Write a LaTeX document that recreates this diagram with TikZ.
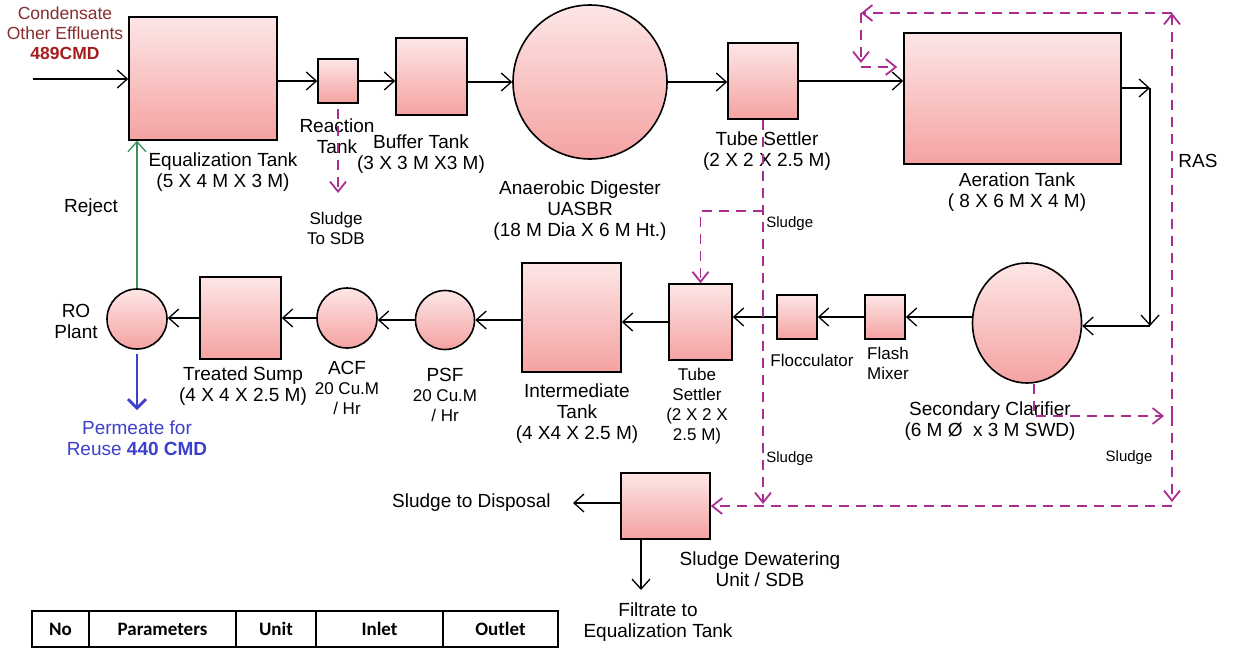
\documentclass[tikz,border=0pt]{standalone}
\usepackage{fontspec}
\setmainfont{Liberation Sans}
\newfontfamily\tablefont{Carlito}
\usetikzlibrary{arrows.meta,positioning,shapes.geometric}
\definecolor{tanktop}{RGB}{253,230,230}
\definecolor{tankbot}{RGB}{245,162,162}
\definecolor{sludgecolor}{RGB}{170,45,145}
\definecolor{feedred}{RGB}{135,45,45}
\definecolor{feedbold}{RGB}{165,30,30}
\definecolor{rejectgreen}{RGB}{55,145,90}
\definecolor{permblue}{RGB}{60,64,205}
\newcommand{\qty}[1]{\textbf{#1}}

\begin{document}
\begin{tikzpicture}[
				x=0.5pt, y=-0.5pt,
				tankbox/.style={
					draw=black,
					line width=0.8pt,
					top color=tanktop,
					bottom color=tankbot,
					inner sep=0pt
				},
				roundtank/.style={
					tankbox,
					circle
				},
				labeltext/.style={
					align=center,
					inner sep=0pt,
					font=\fontsize{9.5}{10.5}\selectfont
				},
				smalltext/.style={
					align=center,
					inner sep=0pt,
					font=\fontsize{8.5}{10}\selectfont
				},
				tinytext/.style={
					inner sep=0pt,
					font=\fontsize{7.5}{9}\selectfont
				},
				flowarrow/.style={
					-{Straight Barb[length=5pt,width=9pt]},
					line width=0.65pt
				},
				rejectarrow/.style={
					flowarrow,
					draw=rejectgreen
				},
				permarrow/.style={
					-{Straight Barb[length=4.5pt,width=9pt]},
					line width=1.4pt,
					draw=permblue
				},
				sludgearrow/.style={
					-{Straight Barb[length=5pt,width=8pt]},
					draw=sludgecolor,
					line width=0.9pt,
					dash pattern=on 5pt off 3.5pt
				},
				tablecell/.style={
					draw,
					line width=0.8pt,
					minimum height=18pt,
					inner sep=0pt,
					outer sep=0pt,
					font=\tablefont\bfseries\fontsize{9.5}{11}\selectfont
				}
				]
				\useasboundingbox (0,0) rectangle (1240,648);
				
				% upper line of tanks
				\node[tankbox, minimum width=74pt, minimum height=61.5pt] (eq) at (203,78.5) {};
				\node[tankbox, minimum width=20pt, minimum height=22pt] (react) at (338,81) {};
				\node[tankbox, minimum width=35.5pt, minimum height=38.5pt] (buffer) at (431.5,76.5) {};
				\node[roundtank, minimum size=77pt] (uasbr) at (590,82) {};
				\node[tankbox, minimum width=35pt, minimum height=38pt] (ts1) at (763,81) {};
				\node[tankbox, minimum width=108.5pt, minimum height=65.5pt] (aer) at (1012.5,98.5) {};
				
				% lower line of tanks
				\node[tankbox, ellipse, minimum width=54.5pt, minimum height=60pt] (clar) at (1027,323) {};
				\node[tankbox, minimum width=20pt, minimum height=22pt] (flash) at (885,317) {};
				\node[tankbox, minimum width=20pt, minimum height=22pt] (floc) at (797,317) {};
				\node[tankbox, minimum width=31.5pt, minimum height=38pt] (ts2) at (700.5,322) {};
				\node[tankbox, minimum width=49.5pt, minimum height=54.5pt] (inter) at (571.5,317.5) {};
				\node[roundtank, minimum size=29.5pt] (psf) at (445,320) {};
				\node[roundtank, minimum size=30pt] (acf) at (347,318) {};
				\node[tankbox, minimum width=40.5pt, minimum height=41pt] (sump) at (240.5,318) {};
				\node[roundtank, minimum size=30pt] (ro) at (137,319) {};
				\node[tankbox, minimum width=44.5pt, minimum height=33pt] (sdb) at (665.5,506) {};
				
				% labels
				\node[align=center, inner sep=0pt, text=feedred, font=\fontsize{8.75}{10}\selectfont] (feed) at (65,33) {Condensate\\Other Effluents\\\textcolor{feedbold}{\qty{489CMD}}};
				\node[labeltext] (eqlbl) at (223,172) {Equalization Tank\\(5 X 4 M X 3 M)};
				\node[labeltext] (reactlbl) at (337,136) {Reaction\\Tank};
				\node[smalltext] (reactsl) at (336,228) {Sludge\\To SDB};
				\node[labeltext] (bufferlbl) at (421,154) {Buffer Tank\\(3 X 3 M X3 M)};
				\node[labeltext] (uasbrlbl) at (580,211) {Anaerobic Digester\\UASBR\\(18 M Dia X 6 M Ht.)};
				\node[labeltext] (ts1lbl) at (767,151) {Tube Settler\\(2 X 2 X 2.5 M)};
				\node[tinytext, anchor=west] (ts1sl) at (766,224) {Sludge};
				\node[labeltext] (aerlbl) at (1017,192) {Aeration Tank\\( 8 X 6 M X 4 M)};
				\node[labeltext] (raslbl) at (1198,161) {RAS};
				\node[labeltext] (clarlbl) at (990,421) {Secondary Clarifier\\(6 M Ø\ \ x 3 M SWD)};
				\node[tinytext] (clarsl) at (1129,458) {Sludge};
				\node[smalltext] (flashlbl) at (888,363) {Flash\\Mixer};
				\node[smalltext] (floclbl) at (812,360) {Flocculator};
				\node[smalltext] (ts2lbl) at (697,406) {Tube\\Settler\\(2 X 2 X\\2.5 M)};
				\node[tinytext, anchor=west] (ts2sl) at (766,459) {Sludge};
				\node[labeltext] (interlbl) at (577,414) {Intermediate\\Tank\\(4 X4 X 2.5 M)};
				\node[smalltext] (psflbl) at (445,395) {{\fontsize{9.5}{10.5}\selectfont PSF}\\20 Cu.M\\/ Hr};
				\node[smalltext] (acflbl) at (347,388) {{\fontsize{9.5}{10.5}\selectfont ACF}\\20 Cu.M\\/ Hr};
				\node[labeltext] (sumplbl) at (243,386) {Treated Sump\\(4 X 4 X 2.5 M)};
				\node[labeltext] (rolbl) at (76,321) {RO\\Plant};
				\node[labeltext] (rejlbl) at (91,208) {Reject};
				\node[labeltext, text=permblue, anchor=north] (perm) at (137,420) {Permeate for\\Reuse \qty{440 CMD}};
				\node[labeltext] (sdblbl) at (760,569) {Sludge Dewatering\\Unit / SDB};
				\node[labeltext, anchor=east] (disp) at (551,503) {Sludge to Disposal};
				\node[labeltext, anchor=north] (filt) at (658,602) {Filtrate to\\Equalization Tank};
				
				% bend points
				\coordinate (inlet) at (33,79);
				\coordinate (aerout) at (1150,88);
				\coordinate (clarin) at (1150,326);
				\coordinate (filtdrop) at (641,590);
				\coordinate (reactdrop) at (338,193);
				\coordinate (tsbranch) at (763,211);
				\coordinate (clarbend) at (1034,416);
				\coordinate (rasjoin) at (1172,416);
				\coordinate (rasbot) at (1172,506);
				\coordinate (rastop) at (1172,13);
				\coordinate (rasleft) at (861,13);
				\coordinate (rasdown) at (861,63);
				\coordinate (rasin) at (861,67);
				
				% main flow
				\draw[flowarrow] (inlet) -- (inlet -| eq.west);
				\draw[flowarrow] (eq.east |- react) -- (react.west);
				\draw[flowarrow] (react.east) -- (react.east -| buffer.west);
				\draw[flowarrow] (buffer.east |- uasbr) -- (uasbr.west);
				\draw[flowarrow] (uasbr.east) -- (uasbr.east -| ts1.west);
				\draw[flowarrow] (ts1.east) -- (ts1.east -| aer.west);
				\draw[flowarrow] (aerout -| aer.east) -- (aerout);
				\draw[flowarrow] (aerout) -- (clarin);
				\draw[flowarrow] (clarin) -- (clarin -| clar.east);
				\draw[flowarrow] (clar.west |- flash) -- (flash.east);
				\draw[flowarrow] (flash.west) -- (floc.east);
				\draw[flowarrow] (floc.west) -- (floc.west -| ts2.east);
				\draw[flowarrow] (ts2.west) -- (ts2.west -| inter.east);
				\draw[flowarrow] (inter.west |- psf) -- (psf.east);
				\draw[flowarrow] (psf.west) -- (psf.west -| acf.east);
				\draw[flowarrow] (acf.west) -- (acf.west -| sump.east);
				\draw[flowarrow] (sump.west) -- (sump.west -| ro.east);
				\draw[rejectarrow] (ro.north) -- (ro.north |- eq.south);
				\draw[permarrow] ([yshift=-2pt]ro.south) -- ([yshift=5pt]perm.north);
				\draw[flowarrow] (sdb.west |- disp.east) -- ([xshift=11pt]disp.east);
				\draw[flowarrow] (filtdrop |- sdb.south) -- (filtdrop);
				
				% sludge and RAS lines
				\draw[sludgearrow] ([yshift=-2.5pt]react.south) -- (reactdrop);
				\draw[sludgearrow, shorten >=1pt] (ts1.south) -- (ts1.south |- sdb.east);
				\draw[sludgearrow] (tsbranch) -| (ts2.north);
				\draw[sludgearrow, shorten >=4pt] (clar.south -| clarbend) -- (clarbend) -- (rasjoin);
				\draw[sludgearrow] (rasjoin) -- (rastop);
				\draw[sludgearrow] (rastop) -- (rasleft);
				\draw[sludgearrow] (rasleft) -- (rasdown);
				\draw[sludgearrow, shorten >=3pt] (rasin) -- (rasin -| aer.west);
				\draw[sludgearrow, shorten >=2pt] (rasjoin) -- (rasbot);
				\draw[sludgearrow] (rasbot) -- (sdb.east);
				
				% table header
				\node[tablecell, minimum width=28.5pt] (colno) at (60.5,629) {No};
				\node[tablecell, minimum width=73.5pt, right=0pt of colno] (colparam) {Parameters};
				\node[tablecell, minimum width=40pt, right=0pt of colparam] (colunit) {Unit};
				\node[tablecell, minimum width=63.5pt, right=0pt of colunit] (colinlet) {Inlet};
				\node[tablecell, minimum width=57.5pt, right=0pt of colinlet] (coloutlet) {Outlet};
				
			\end{tikzpicture}
\end{document}
